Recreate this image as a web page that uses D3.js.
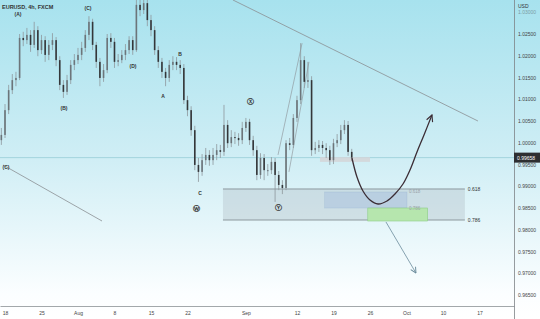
<!DOCTYPE html>
<html>
<head>
<meta charset="utf-8">
<script src="https://cdn.jsdelivr.net/npm/d3@7"></script>
<style>
  body { margin: 0; background: #fff; }
  svg { display: block; font-family: "Liberation Sans", Arial, sans-serif; }
</style>
</head>
<body>
<div id="chart"></div>
<script>
// EURUSD 4h chart, redrawn as 12h candles with the wave/fib annotations

const svgWidth = 540;
const svgHeight = 319;
const plotRight = 514;
const plotBottom = 306;

// candle data (one candle every half trading day, starting Jul 15 evening)
const firstDay = -0.5;
const barStep = 0.5;
const firstOpen = 1.0006;
const closes = [1.0018, 1.0075, 1.0121, 1.0144, 1.0149, 1.0241, 1.0236, 1.0248, 1.0225, 1.0259,
  1.0213, 1.0236, 1.0202, 1.0225, 1.0236, 1.0190, 1.0133, 1.0117, 1.0144, 1.0179,
  1.0190, 1.0202, 1.0218, 1.0248, 1.0278, 1.0225, 1.0186, 1.0149, 1.0167, 1.0241,
  1.0232, 1.0186, 1.0190, 1.0202, 1.0213, 1.0236, 1.0213, 1.0317, 1.0305, 1.0321,
  1.0282, 1.0259, 1.0213, 1.0186, 1.0163, 1.0149, 1.0179, 1.0186, 1.0179, 1.0172,
  1.0098, 1.0075, 1.0029, 0.9949, 0.9933, 0.9960, 0.9972, 0.9960, 0.9972, 0.9983,
  0.9979, 1.0041, 0.9999, 1.0013, 1.0011, 1.0006, 1.0034, 1.0048, 1.0006, 0.9983,
  0.9926, 0.9965, 0.9937, 0.9937, 0.9956, 0.9926, 0.9903, 0.9896, 0.9999, 0.9995,
  1.0057, 1.0098, 1.0190, 1.0140, 1.0144, 0.9983, 0.9988, 0.9995, 0.9988, 0.9983,
  0.9960, 0.9999, 1.0006, 1.0029, 1.0041, 0.9979, 0.99658];
const highs = [1.0034, 1.0089, 1.0133, 1.0158, 1.0163, 1.0250, 1.0255, 1.0264, 1.0259, 1.0278,
  1.0268, 1.0248, 1.0245, 1.0236, 1.0252, 1.0243, 1.0199, 1.0144, 1.0156, 1.0190,
  1.0204, 1.0218, 1.0232, 1.0259, 1.0291, 1.0285, 1.0232, 1.0195, 1.0181, 1.0250,
  1.0252, 1.0241, 1.0204, 1.0213, 1.0227, 1.0245, 1.0245, 1.0333, 1.0335, 1.0337,
  1.0331, 1.0294, 1.0268, 1.0222, 1.0195, 1.0172, 1.0190, 1.0199, 1.0197, 1.0190,
  1.0181, 1.0108, 1.0084, 1.0039, 0.9965, 0.9974, 0.9988, 0.9983, 0.9988, 0.9997,
  0.9995, 1.0087, 1.0052, 1.0029, 1.0025, 1.0022, 1.0048, 1.0057, 1.0055, 1.0016,
  0.9993, 0.9976, 0.9974, 0.9951, 0.9967, 0.9965, 0.9935, 0.9914, 1.0006, 1.0011,
  1.0066, 1.0108, 1.0229, 1.0199, 1.0186, 1.0153, 1.0002, 1.0006, 1.0004, 0.9999,
  0.9993, 1.0009, 1.0020, 1.0041, 1.0052, 1.0050, 0.9986];
const lows = [0.9995, 1.0011, 1.0066, 1.0112, 1.0130, 1.0144, 1.0222, 1.0227, 1.0209, 1.0218,
  1.0199, 1.0204, 1.0186, 1.0190, 1.0213, 1.0176, 1.0121, 1.0103, 1.0110, 1.0135,
  1.0167, 1.0181, 1.0190, 1.0209, 1.0236, 1.0213, 1.0172, 1.0130, 1.0140, 1.0160,
  1.0218, 1.0172, 1.0176, 1.0183, 1.0190, 1.0204, 1.0202, 1.0209, 1.0291, 1.0296,
  1.0268, 1.0245, 1.0202, 1.0172, 1.0149, 1.0130, 1.0140, 1.0167, 1.0167, 1.0158,
  1.0089, 1.0061, 1.0016, 0.9937, 0.9910, 0.9924, 0.9949, 0.9947, 0.9949, 0.9960,
  0.9965, 0.9970, 0.9988, 0.9990, 0.9997, 0.9993, 0.9997, 1.0025, 0.9995, 0.9970,
  0.9914, 0.9917, 0.9914, 0.9924, 0.9928, 0.9864, 0.9891, 0.9882, 0.9891, 0.9983,
  0.9988, 1.0048, 1.0089, 1.0126, 1.0126, 0.9970, 0.9974, 0.9979, 0.9974, 0.9965,
  0.9949, 0.9951, 0.9990, 0.9997, 1.0020, 0.9970, 0.9958];
const lastPrice = 0.99658;

// axis ticks (x in trading days from Jul 18)
const dateTicks = [0, 5, 10, 15, 20, 25, 33, 40, 45, 50, 55, 60, 65];
const dateLabels = ["18", "25", "Aug", "8", "15", "22", "Sep", "12", "19", "26", "Oct", "10", "17"];
const priceTicks = [0.965, 0.97, 0.975, 0.98, 0.985, 0.99, 0.995, 1.0, 1.005, 1.01, 1.015, 1.02, 1.025, 1.03];

// boxes: [startDay, endDay, topPrice, bottomPrice]
const fibBox = [29.86, 63.0, 0.98937, 0.98224];
const blueBox = [43.8, 55.07, 0.98868, 0.985];
const greenBox = [49.7, 57.9, 0.985, 0.98201];
const priceBox = [43.15, 50.0, 0.9967, 0.9956];

// drawn lines: [[day, price], [day, price]]
const trendLines = [
  [[31.23, 1.03282], [64.79, 1.005]],
  [[-0.27, 0.99489], [13.29, 0.98201]]
];
const wedgeLines = [
  [[37.4, 0.9972], [40.7, 1.0229]],
  [[38.9, 0.9933], [41.64, 1.0186]]
];
const projection = [[47.53, 0.9965], [48.22, 0.99213], [49.04, 0.98891], [50.0, 0.98684],
  [51.1, 0.98592], [52.33, 0.98661], [53.42, 0.98822], [54.52, 0.99052], [55.48, 0.99374],
  [56.44, 0.99788], [57.4, 1.00179], [58.49, 1.00638]];
const downArrow = [[52.19, 0.98179], [56.3, 0.97006]];

// wave labels: [text, day, price]
const waveLabels = [
  ["(A)", 1.78, 1.0296], ["(B)", 8.08, 1.008], ["(C)", 11.37, 1.031], ["(D)", 17.53, 1.0176],
  ["A", 21.64, 1.0107], ["B", 23.97, 1.0204], ["C", 26.71, 0.9885],
  ["\u24CC", 26.3, 0.985], ["\u24CD", 33.7, 1.0094], ["\u24CE", 37.53, 0.9852],
  ["(C)", 0.14, 0.9944]
];
const fibLevels = ["0.618", "0.786"];

const svg = d3.select("#chart").append("svg")
  .attr("width", svgWidth)
  .attr("height", svgHeight);

const defs = svg.append("defs");
const grad = defs.append("linearGradient")
  .attr("id", "bg").attr("x1", 0).attr("y1", 0).attr("x2", 0).attr("y2", 1);
grad.append("stop").attr("offset", "0%").attr("stop-color", "#a7e2ee");
grad.append("stop").attr("offset", "50%").attr("stop-color", "#d0eef5");
grad.append("stop").attr("offset", "92%").attr("stop-color", "#fbfeff");
grad.append("stop").attr("offset", "100%").attr("stop-color", "#ffffff");

defs.append("clipPath").attr("id", "plot")
  .append("rect").attr("width", plotRight).attr("height", plotBottom);

function chevron(id, color, size) {
  defs.append("marker")
    .attr("id", id)
    .attr("viewBox", "0 0 10 10")
    .attr("refX", 9).attr("refY", 5)
    .attr("markerWidth", size).attr("markerHeight", size)
    .attr("markerUnits", "userSpaceOnUse")
    .attr("orient", "auto")
    .append("path")
    .attr("d", "M1,1 L9,5 L1,9")
    .attr("fill", "none")
    .attr("stroke", color)
    .attr("stroke-width", 1.4);
}
chevron("headDark", "#3b2d35", 8);
chevron("headBlue", "#6b8c9c", 7);

svg.append("rect")
  .attr("width", svgWidth).attr("height", svgHeight)
  .attr("fill", "url(#bg)");

// scales
const x = d3.scaleLinear().domain([-0.685, 69.73]).range([0, plotRight]);
const y = d3.scaleLinear().domain([0.96247, 1.03282]).range([plotBottom, 0]);

const plot = svg.append("g").attr("clip-path", "url(#plot)");

// last price line
plot.append("line")
  .attr("x1", 0).attr("x2", plotRight)
  .attr("y1", y(lastPrice)).attr("y2", y(lastPrice))
  .attr("stroke", "#9dd0da").attr("stroke-width", 0.9);

function box(b, fill, stroke) {
  return plot.append("rect")
    .attr("x", x(b[0])).attr("width", x(b[1]) - x(b[0]))
    .attr("y", y(b[2])).attr("height", y(b[3]) - y(b[2]))
    .attr("fill", fill)
    .attr("stroke", stroke || "none");
}

// fib zone with its level lines
box(fibBox, "rgba(175,190,198,0.38)");
[fibBox[2], fibBox[3]].forEach((p) => {
  plot.append("line")
    .attr("x1", x(fibBox[0])).attr("x2", x(fibBox[1]))
    .attr("y1", y(p)).attr("y2", y(p))
    .attr("stroke", "#8d999e").attr("stroke-width", 1);
});
box(blueBox, "rgba(168,192,222,0.5)").attr("stroke", "rgba(140,170,205,0.45)").attr("stroke-width", 0.5);
box(greenBox, "#b6e6ae").attr("stroke", "#8cce86").attr("stroke-width", 0.6);
box(priceBox, "rgba(212,214,217,0.9)");

// trend lines
const line = d3.line().x((d) => x(d[0])).y((d) => y(d[1]));
trendLines.forEach((l) => {
  plot.append("path").attr("d", line(l))
    .attr("fill", "none").attr("stroke", "#8a8f93").attr("stroke-width", 0.8);
});
wedgeLines.forEach((l) => {
  plot.append("path").attr("d", line(l))
    .attr("fill", "none").attr("stroke", "#8a8f93").attr("stroke-width", 0.6);
});

// candles
const bars = closes.map((c, i) => ({
  day: firstDay + i * barStep,
  o: i ? closes[i - 1] : firstOpen,
  c: c,
  h: highs[i],
  l: lows[i]
}));

const candle = plot.selectAll(".candle").data(bars).enter().append("g").attr("class", "candle");
candle.append("line")
  .attr("x1", (d) => x(d.day)).attr("x2", (d) => x(d.day))
  .attr("y1", (d) => y(d.h)).attr("y2", (d) => y(d.l))
  .attr("stroke", "#8e979c").attr("stroke-width", 0.8);
candle.append("rect")
  .attr("x", (d) => x(d.day) - 0.8)
  .attr("width", 1.6)
  .attr("y", (d) => y(Math.max(d.o, d.c)))
  .attr("height", (d) => Math.max(1, Math.abs(y(d.o) - y(d.c))))
  .attr("fill", (d) => (d.c >= d.o ? "#6c757a" : "#34373a"));

// projected path
plot.append("path")
  .attr("d", line.curve(d3.curveCatmullRom)(projection))
  .attr("fill", "none")
  .attr("stroke", "#3b2d35")
  .attr("stroke-width", 1.3)
  .attr("marker-end", "url(#headDark)");
line.curve(d3.curveLinear);

plot.append("path")
  .attr("d", line(downArrow))
  .attr("fill", "none")
  .attr("stroke", "#6b8c9c")
  .attr("stroke-width", 0.8)
  .attr("marker-end", "url(#headBlue)");

// wave labels
plot.selectAll(".wave").data(waveLabels).enter().append("text")
  .attr("class", "wave")
  .attr("x", (d) => x(d[1])).attr("y", (d) => y(d[2]))
  .attr("text-anchor", "middle")
  .attr("dominant-baseline", "central")
  .attr("font-size", (d) => (d[0].length === 1 && d[0] > "Z" ? 7 : 5))
  .attr("font-weight", "bold")
  .attr("fill", "#333")
  .text((d) => d[0]);

// fib labels
fibLevels.forEach((t, i) => {
  const p = [fibBox[2], fibBox[3]][i];
  plot.append("text")
    .attr("x", x(fibBox[1]) + 3).attr("y", y(p))
    .attr("dominant-baseline", "central")
    .attr("font-size", 5).attr("fill", "#333")
    .text(t);
  const q = [blueBox[2], blueBox[3]][i];
  plot.append("text")
    .attr("x", x(blueBox[1]) + 2).attr("y", y(q))
    .attr("dominant-baseline", "central")
    .attr("font-size", 4.5).attr("fill", "#9aa3a8")
    .text(t);
});

// title
svg.append("text")
  .attr("x", 2).attr("y", 7)
  .attr("dominant-baseline", "central")
  .attr("font-size", 5.5).attr("font-weight", "bold").attr("fill", "#333")
  .text("EURUSD, 4h, FXCM");

// axes
const yAxis = svg.append("g")
  .attr("transform", `translate(${plotRight},0)`)
  .call(d3.axisRight(y).tickValues(priceTicks).tickFormat(d3.format(".5f")).tickSize(0).tickPadding(4));
yAxis.select(".domain").remove();
yAxis.selectAll("text").attr("font-size", 5).attr("fill", "#444")
  .attr("font-family", "'Liberation Sans', Arial, sans-serif")
  .attr("opacity", (d) => (d === 1.03 ? 0.45 : 1));

const xAxis = svg.append("g")
  .attr("transform", `translate(0,${plotBottom})`)
  .call(d3.axisBottom(x).tickValues(dateTicks).tickFormat((d, i) => dateLabels[i]).tickSize(0).tickPadding(5));
xAxis.select(".domain").attr("stroke", "#a3a8ab");
xAxis.selectAll("text").attr("font-size", 5).attr("fill", "#444")
  .attr("font-family", "'Liberation Sans', Arial, sans-serif");

svg.append("line")
  .attr("x1", plotRight + 0.5).attr("x2", plotRight + 0.5)
  .attr("y1", 0).attr("y2", svgHeight)
  .attr("stroke", "#7d8386").attr("stroke-width", 0.8);

svg.append("text")
  .attr("x", 518).attr("y", 6)
  .attr("dominant-baseline", "central")
  .attr("font-size", 5).attr("fill", "#333")
  .text("USD");

// last price tag
svg.append("rect")
  .attr("x", plotRight).attr("y", y(lastPrice) - 5)
  .attr("width", svgWidth - plotRight).attr("height", 10)
  .attr("fill", "#2e2f31");
svg.append("text")
  .attr("x", plotRight + 3).attr("y", y(lastPrice))
  .attr("dominant-baseline", "central")
  .attr("font-size", 5).attr("fill", "#fff")
  .text(d3.format(".5f")(lastPrice));
</script>
</body>
</html>
